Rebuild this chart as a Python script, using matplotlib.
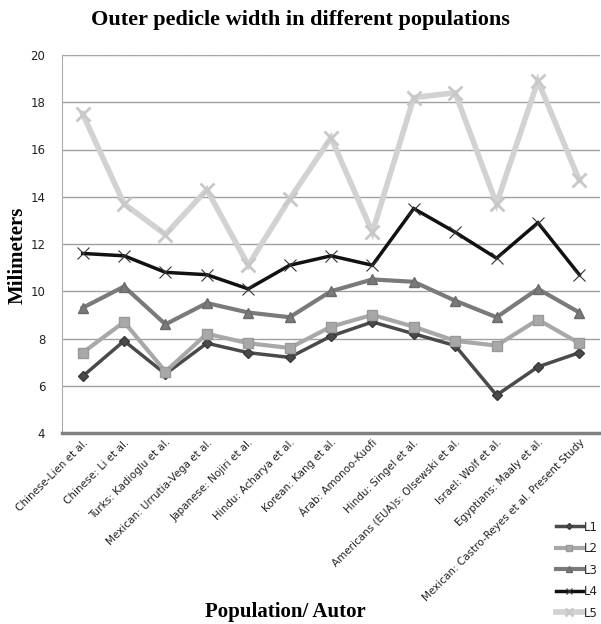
import matplotlib
matplotlib.use("Agg")
import matplotlib.pyplot as plt

categories = ["Chinese-Lien et al.", "Chinese: Li et al.", "Turks: Kadioglu et al.",
              "Mexican: Urrutia-Vega et al.", "Japanese: Nojiri et al.", "Hindu: Acharya et al.",
              "Korean: Kang et al.", "Árab: Amonoo-Kuofi", "Hindu: Singel et al.",
              "Americans (EUA)s: Olsewski et al.", "Israel: Wolf et al.", "Egyptians: Maaly et al.",
              "Mexican: Castro-Reyes et al. Present Study"]
L1 = [6.4, 7.9, 6.5, 7.8, 7.4, 7.2, 8.1, 8.7, 8.2, 7.7, 5.6, 6.8, 7.4]
L2 = [7.4, 8.7, 6.6, 8.2, 7.8, 7.6, 8.5, 9.0, 8.5, 7.9, 7.7, 8.8, 7.8]
L3 = [9.3, 10.2, 8.6, 9.5, 9.1, 8.9, 10.0, 10.5, 10.4, 9.6, 8.9, 10.1, 9.1]
L4 = [11.6, 11.5, 10.8, 10.7, 10.1, 11.1, 11.5, 11.1, 13.5, 12.5, 11.4, 12.9, 10.7]
L5 = [17.5, 13.7, 12.4, 14.3, 11.1, 13.9, 16.5, 12.5, 18.2, 18.4, 13.7, 18.9, 14.7]
series_names = ["L1", "L2", "L3", "L4", "L5"]
yticks = [4, 6, 8, 10, 12, 14, 16, 18, 20]

fig = plt.figure(figsize=(6.01, 6.24), dpi=100)
ax = fig.add_axes([62/601, 1-433/624, 538/601, 378/624])

x = list(range(len(categories)))
styles = [
    dict(color="#4a4a4a", marker="D", markersize=5, lw=2.5, mec="#3a3a3a"),
    dict(color="#a8a8a8", marker="s", markersize=7, lw=3, mec="#999999"),
    dict(color="#7a7a7a", marker="^", markersize=7, lw=3, mec="#6a6a6a"),
    dict(color="#111111", marker="x", markersize=8, lw=2.5, mec="#333333", mew=0.8),
    dict(color="#d2d2d2", marker="x", markersize=10, lw=4, mec="#c8c8c8", mew=2),
]
all_series = [L1, L2, L3, L4, L5]
handles = []
for name, vals, st in zip(series_names, all_series, styles):
    ln, = ax.plot(x, vals, label=name, solid_joinstyle="miter", zorder=3, **st)
    handles.append(ln)

ax.set_xlim(-0.5, len(categories) - 0.5)
ax.set_ylim(4, 20)
ax.set_yticks(yticks)
ax.yaxis.grid(True, color="#a0a0a0", lw=1)
ax.set_axisbelow(True)
ax.tick_params(axis="y", length=0, labelsize=8.5, labelcolor="#222222", pad=12)
ax.tick_params(axis="x", length=0, pad=3)
ax.set_xticks(x)
ax.set_xticklabels(categories, rotation=45, ha="right", rotation_mode="anchor",
                   fontsize=7.5, color="#222222")
ax.spines["top"].set_linestyle(":")
ax.spines["top"].set_color("#aaaaaa")
ax.spines["right"].set_visible(False)
ax.spines["left"].set_color("#aaaaaa")
ax.spines["bottom"].set_color("#808080")
ax.spines["bottom"].set_linewidth(2.5)

fig.text(0.5, 1-20/624, "Outer pedicle width in different populations",
         ha="center", va="center", fontsize=16, fontweight="bold", family="Liberation Serif")
fig.text(18/601, 1-255/624, "Milimeters", rotation=90, ha="center", va="center",
         fontsize=15, fontweight="bold", family="Liberation Serif")
fig.text(285/601, 1-612/624, "Population/ Autor", ha="center", va="center",
         fontsize=15, fontweight="bold", family="Liberation Serif")

leg = fig.legend(handles=handles, labels=series_names, loc="upper left",
                 bbox_to_anchor=(552/601, 1-517/624), frameon=False, fontsize=8.5,
                 handlelength=2.3, handletextpad=0.1, labelspacing=0.72, markerscale=0.6,
                 borderaxespad=0, borderpad=0.3)
for t in leg.get_texts():
    t.set_color("#222222")

fig.savefig("out.png", dpi=100)
